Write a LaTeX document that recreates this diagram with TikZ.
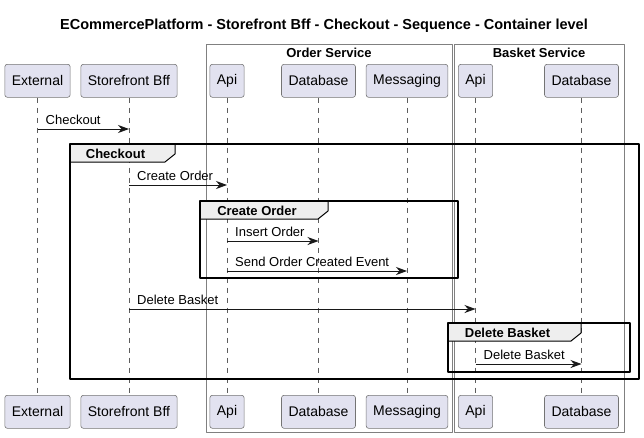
\documentclass[tikz,border=0pt]{standalone}
\usepackage{fontspec}
\setmainfont{Liberation Sans}
\usetikzlibrary{arrows.meta}
\definecolor{partfill}{HTML}{E2E2F0}
\definecolor{inkline}{HTML}{181818}
\definecolor{tabfill}{HTML}{EEEEEE}
\begin{document}
\begin{tikzpicture}[x=1pt, y=-1pt, line join=round, >={Stealth[length=11pt,width=8pt,inset=3.5pt]},
	part/.style={draw=inkline!60, line width=.6pt, fill=partfill, rounded corners=2.5pt, minimum height=33pt, inner xsep=7pt, anchor=north, font=\fontsize{14}{16}\selectfont},
	lifeline/.style={draw=inkline!70, line width=.6pt, dash pattern=on 5pt off 5pt},
	msg/.style={->, draw=inkline, line width=.8pt},
	msglabel/.style={anchor=base west, inner sep=0pt, font=\fontsize{13}{15}\selectfont},
	svcbox/.style={draw=inkline!55, line width=.8pt},
	frm/.style={draw=black, line width=1.5pt},
	bold/.style={font=\fontsize{13}{15}\selectfont\bfseries, inner sep=0pt, anchor=base}]
	\useasboundingbox (0,0) rectangle (644,437);
	\node[font=\fontsize{14.5}{17}\selectfont\bfseries, anchor=base] (title) at (324,29) {ECommercePlatform - Storefront Bff - Checkout - Sequence - Container level};
	\foreach \xa/\xb/\t in {206/452/Order Service, 454/624/Basket Service}{
		\draw[svcbox] (\xa,44) rectangle (\xb,432);
		\node[bold] (svc\xa) at ({(\xa+\xb)/2},57) {\t};
	}
	\foreach \n/\x/\t in {ext/37.5/External, bff/129/Storefront Bff, oapi/227/Api, odb/318.5/Database, omsg/407/Messaging, bapi/475.5/Api, bdb/581.5/Database}{
		\node[part] (\n) at (\x,64) {\t};
		\node[part] (\n2) at (\x,395) {\t};
		\draw[lifeline] (\n) -- (\n2);
	}
	\foreach \f/\t/\y/\l in {ext/bff/129/Checkout, bff/oapi/185/Create Order, oapi/odb/241/Insert Order, oapi/omsg/271/Send Order Created Event, bff/bapi/309/Delete Basket, bapi/bdb/364/Delete Basket}{
		\draw[msg] (\f |- 0,\y) -- (\t |- 0,\y);
		\path (\f |- 0,\y) ++(8,-4.5) node[msglabel] {\l};
	}
	\foreach \xa/\ya/\xb/\yb/\tr/\l in {70/144/639/379/175/Checkout, 200/201/458/278/328/Create Order, 448/323/630/372/581/Delete Basket}{
		\filldraw[draw=black, line width=1pt, fill=tabfill] (\xa,\ya) -- (\tr,\ya) -- (\tr,\ya+10) -- (\tr-10,\ya+18) -- (\xa,\ya+18) -- cycle;
		\draw[frm] (\xa,\ya) rectangle (\xb,\yb);
		\node[bold] (frm\xa) at ({(\xa+\tr)/2-7},\ya+14) {\l};
	}
\end{tikzpicture}
\end{document}
